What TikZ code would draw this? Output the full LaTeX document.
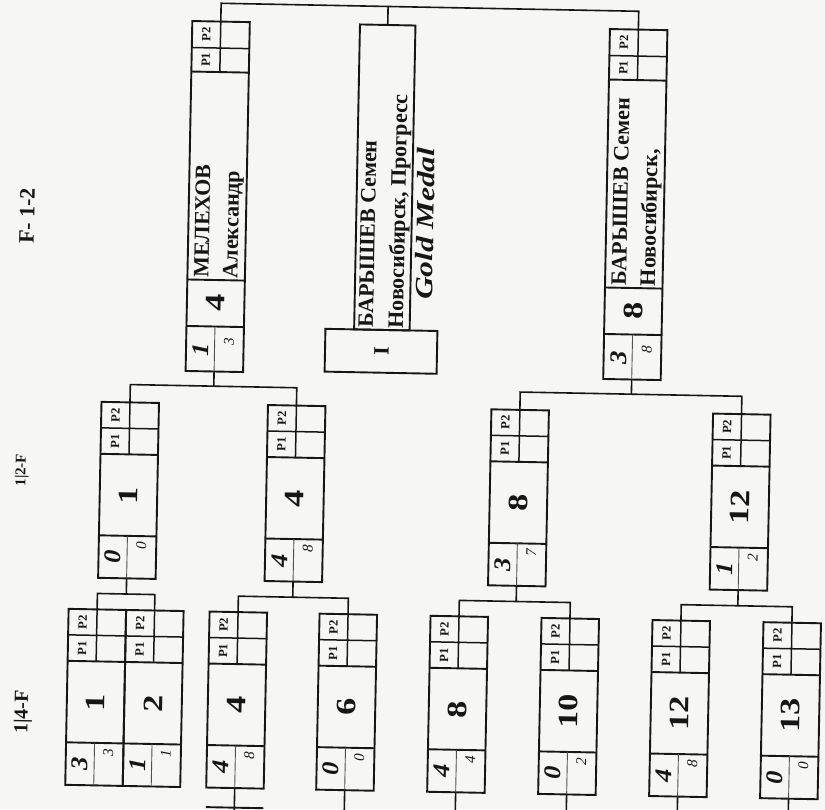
\documentclass[tikz,border=0pt]{standalone}
\usepackage{fontspec}
\usepackage{graphicx}
\setmainfont{Liberation Serif}
\definecolor{paper}{RGB}{246,246,244}
\definecolor{ink}{RGB}{22,22,22}
\tikzset{
  boxln/.style={draw=ink,line width=0.95pt},
  cellln/.style={draw=ink,line width=0.75pt},
  divln/.style={draw=ink!75,line width=0.45pt},
  conn/.style={draw=ink,line width=0.8pt},
  rtxt/.style={rotate=88.9,inner sep=0pt,text=ink},
  ptxt/.style={rtxt,font=\fontsize{6.3}{7}\selectfont\bfseries},
  bignum/.style={rtxt,font=\fontsize{14}{15}\selectfont\bfseries},
  scbig/.style={rtxt,font=\fontsize{12}{13}\selectfont\bfseries\itshape},
  scsmall/.style={rtxt,font=\fontsize{7.5}{8}\selectfont\itshape},
  nametxt/.style={rtxt,anchor=north west,align=left,font=\fontsize{11}{14.5}\selectfont\bfseries},
  lbl/.style={rtxt,font=\bfseries}
}
% box: left, top, main number, big score, small score, id
\newcommand{\Bx}[6]{%
  \coordinate (#6t) at (#1+28.5,#2);
  \coordinate (#6b) at (#1+28.5,#2+176);
  \draw[boxln] (#1,#2) rectangle (#1+57.5,#2+176);
  \draw[boxln] (#1,#2+52) -- (#1+57.5,#2+52) (#1,#2+133.5) -- (#1+57.5,#2+133.5);
  \draw[cellln] (#1,#2+26) -- (#1+57.5,#2+26) (#1+28.5,#2) -- (#1+28.5,#2+52);
  \draw[divln] (#1+28.5,#2+133.5) -- (#1+28.5,#2+176);
  \node[ptxt] (#6p2) at (#1+14.25,#2+13) {P2};
  \node[ptxt] (#6p1) at (#1+14.25,#2+39) {P1};
  \node[bignum] (#6n) at (#1+28.75,#2+93) {\scalebox{1.22}[1]{#3}};
  \node[scbig] (#6s) at (#1+14.25,#2+155) {\scalebox{1.1}[1]{#4}};
  \node[scsmall] (#6r) at (#1+42.5,#2+143) {#5};
}
% final box: left, top, number, big score, small score, name, id
\newcommand{\Fx}[7]{%
  \coordinate (#7t) at (#1+28.5,#2);
  \coordinate (#7b) at (#1+28.5,#2+350);
  \draw[boxln] (#1,#2) rectangle (#1+57.5,#2+350);
  \draw[boxln] (#1,#2+50.5) -- ++(57.5,0) (#1,#2+258.5) -- ++(57.5,0) (#1,#2+305) -- ++(57.5,0);
  \draw[cellln] (#1,#2+26.5) -- ++(57.5,0) (#1+28.5,#2) -- (#1+28.5,#2+50.5);
  \draw[divln] (#1+28.5,#2+305) -- (#1+28.5,#2+350);
  \node[ptxt] (#7p2) at (#1+14.25,#2+13.25) {P2};
  \node[ptxt] (#7p1) at (#1+14.25,#2+38.5) {P1};
  \node[nametxt] (#7name) at (#1+6,#2+256.5) {#6};
  \node[bignum] (#7n) at (#1+28.75,#2+281.75) {\scalebox{1.22}[1]{#3}};
  \node[scbig] (#7s) at (#1+15,#2+328) {\scalebox{1.1}[1]{#4}};
  \node[scsmall] (#7r) at (#1+43,#2+320) {#5};
}
\begin{document}
\begin{tikzpicture}[x=0.5pt,y=-0.5pt]
\useasboundingbox (0,0) rectangle (825,809);
\fill[paper] (0,0) rectangle (825,809);
% round labels
\node[lbl,font=\fontsize{11}{12}\selectfont\bfseries] (lF) at (27,216) {F- 1-2};
\node[lbl,font=\fontsize{7.5}{8}\selectfont\bfseries] (lS) at (22,470) {1|2-F};
\node[lbl,font=\fontsize{10}{11}\selectfont\bfseries] (lQ) at (23,712) {1|4-F};
\begin{scope}
\clip (0,0) rectangle (825,809);
\begin{scope}[rotate around={-1.1:(412,404)}]
\coordinate (yT) at (0,7);
\coordinate (yF) at (0,390);
\coordinate (yS) at (0,599.5);
% quarter-finals
\Bx{72.6}{615.4}{1}{3}{3}{QA}
\Bx{130.1}{615.4}{2}{1}{1}{QB}
\Bx{213.6}{615.4}{4}{4}{8}{Q4}
\Bx{323.6}{615.4}{6}{0}{0}{Q6}
\Bx{434.6}{615.4}{8}{4}{4}{Q8}
\Bx{545.6}{615.4}{10}{0}{2}{Q10}
\Bx{656.6}{615.4}{12}{4}{8}{Q12}
\Bx{767.6}{615.4}{13}{0}{0}{Q13}
% semi-finals
\Bx{101.5}{407.8}{1}{0}{0}{S1}
\Bx{268}{407.8}{4}{4}{8}{S4}
\Bx{491.5}{407.8}{8}{3}{7}{S8}
\Bx{713.2}{407.8}{12}{1}{2}{S12}
% finals
\Fx{185}{25.3}{4}{1}{3}{МЕЛЕХОВ\\Александр}{F1}
\Fx{602.7}{25.3}{8}{3}{8}{БАРЫШЕВ Семен\\Новосибирск,}{F2}
% winner
\draw[boxln] (352.7,25.5) rectangle (408.2,330.5);
\coordinate (Gt) at (380.5,25.5);
\node[nametxt,font=\fontsize{11}{15}\selectfont\bfseries] (Gname) at (356.5,329) {БАРЫШЕВ Семен\\Новосибирск, Прогресс};
\node[rtxt,font=\fontsize{12.5}{14}\selectfont\bfseries\itshape] (Gmedal) at (421.6,223.5) {\scalebox{1.25}[1]{Gold Medal}};
\draw[boxln] (324,330.5) rectangle (436,373.3);
\node[rtxt,font=\fontsize{11}{12}\selectfont\bfseries] (place) at (380.5,352) {I};
% connectors
\draw[conn] (F1t) -- (F1t |- yT) -- (F2t |- yT) -- (F2t);
\draw[conn] (Gt) -- (Gt |- yT);
\draw[conn] (F1b) -- (F1b |- yF);
\draw[conn] (F2b) -- (F2b |- yF);
\draw[conn] (S1t) -- (S1t |- yF) -- (S4t |- yF) -- (S4t);
\draw[conn] (S8t) -- (S8t |- yF) -- (S12t |- yF) -- (S12t);
\draw[conn] (S1b) -- (S1b |- yS);
\draw[conn] (S4b) -- (S4b |- yS);
\draw[conn] (S8b) -- (S8b |- yS);
\draw[conn] (S12b) -- (S12b |- yS);
\draw[conn] (QAt) -- (QAt |- yS) -- (QBt |- yS) -- (QBt);
\draw[conn] (Q4t) -- (Q4t |- yS) -- (Q6t |- yS) -- (Q6t);
\draw[conn] (Q8t) -- (Q8t |- yS) -- (Q10t |- yS) -- (Q10t);
\draw[conn] (Q12t) -- (Q12t |- yS) -- (Q13t |- yS) -- (Q13t);
\foreach \q in {Q4,Q6,Q8,Q10,Q12,Q13} {\draw[conn] (\q b) -- ++(0,40);}
\draw[boxln] (213.6,811) -- (271.1,811);
\end{scope}
\end{scope}
\end{tikzpicture}
\end{document}
